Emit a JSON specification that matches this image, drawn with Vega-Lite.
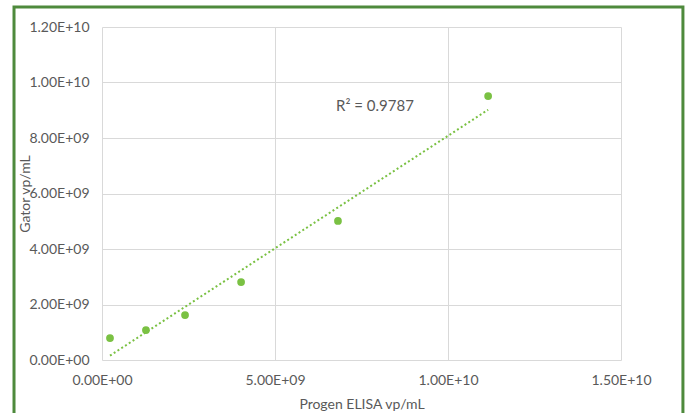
{
  "$schema": "https://vega.github.io/schema/vega-lite/v6.json",
  "width": 519,
  "height": 333,
  "autosize": "none",
  "padding": {"left": 102, "top": 27, "right": 67, "bottom": 53},
  "background": "white",
  "config": {
    "view": {"stroke": null},
    "font": "Lato",
    "axis": {
      "labelColor": "#595959",
      "titleColor": "#595959",
      "labelFontSize": 14,
      "titleFontSize": 14,
      "titleFontWeight": "normal",
      "labelFlush": false,
      "grid": true,
      "gridColor": "#d9d9d9",
      "gridWidth": 1,
      "domain": false,
      "ticks": false,
      "labelFont": "Lato",
      "titleFont": "Lato"
    }
  },
  "data": {
    "values": [
      {"elisa": 2.31e8, "gator": 7.9e8},
      {"elisa": 1.27e9, "gator": 1.08e9},
      {"elisa": 2.40e9, "gator": 1.62e9},
      {"elisa": 4.02e9, "gator": 2.81e9},
      {"elisa": 6.82e9, "gator": 5.01e9},
      {"elisa": 1.116e10, "gator": 9.51e9}
    ]
  },
  "encoding": {
    "x": {
      "field": "elisa",
      "type": "quantitative",
      "scale": {"domain": [0, 1.5e10], "nice": false, "zero": false},
      "axis": {
        "title": "Progen ELISA vp/mL",
        "grid": true,
        "labelFlush": false,
        "values": [0, 5e9, 1e10, 1.5e10],
        "labelExpr": "datum.value == 0 ? '0.00E+00' : (length(format(datum.value, '.2e')) == 7 ? replace(format(datum.value, '.2e'), 'e+', 'E+0') : replace(format(datum.value, '.2e'), 'e+', 'E+'))",
        "labelPadding": 13,
        "titlePadding": 10
      }
    },
    "y": {
      "field": "gator",
      "type": "quantitative",
      "scale": {"domain": [0, 1.2e10], "nice": false, "zero": false},
      "axis": {
        "title": "Gator vp/mL",
        "grid": true,
        "labelFlush": false,
        "values": [0, 2e9, 4e9, 6e9, 8e9, 1e10, 1.2e10],
        "labelExpr": "datum.value == 0 ? '0.00E+00' : (length(format(datum.value, '.2e')) == 7 ? replace(format(datum.value, '.2e'), 'e+', 'E+0') : replace(format(datum.value, '.2e'), 'e+', 'E+'))",
        "labelPadding": 13,
        "titlePadding": -4
      }
    }
  },
  "layer": [
    {
      "mark": {"type": "line", "color": "#7ac143", "strokeWidth": 2, "strokeDash": [2, 2.5]},
      "transform": [{"regression": "gator", "on": "elisa"}]
    },
    {
      "mark": {"type": "circle", "color": "#7ac143", "opacity": 1, "size": 60}
    },
    {
      "transform": [{"filter": "datum.gator > 9e9"}],
      "mark": {"type": "text", "text": "R² = 0.9787", "fontSize": 15, "fontWeight": "normal", "fill": "#595959", "font": "Lato"},
      "encoding": {
        "x": {"datum": 7.89e9, "type": "quantitative"},
        "y": {"datum": 9.15e9, "type": "quantitative"}
      }
    },
    {
      "transform": [{"filter": "datum.gator > 9e9"}],
      "mark": {"type": "rect", "fillOpacity": 0, "stroke": "#4e8a3c", "strokeWidth": 3, "clip": false},
      "encoding": {
        "x": {"datum": -2.543e9, "type": "quantitative"},
        "x2": {"datum": 1.679e10},
        "y": {"datum": 1.272e10, "type": "quantitative"},
        "y2": {"datum": -2.2e9}
      }
    }
  ]
}
